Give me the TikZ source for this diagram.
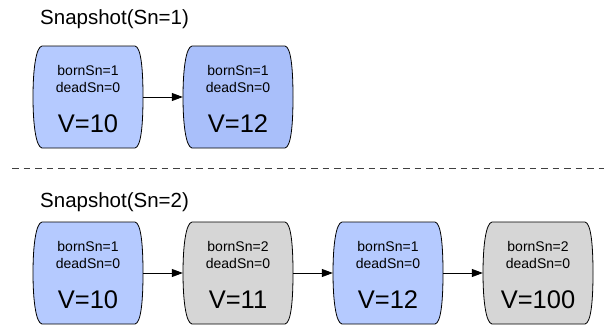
\documentclass[tikz,border=0pt]{standalone}
\usepackage{fontspec}
\setmainfont{Liberation Sans}
\usetikzlibrary{arrows.meta}
\definecolor{blueA}{HTML}{B5CAFF}
\definecolor{blueB}{HTML}{A9BFFA}
\definecolor{grayA}{HTML}{D6D6D6}
\tikzset{
  holder/.style={minimum width=110pt, minimum height=102pt, inner sep=0pt, draw=none},
  barrel/.style={draw=black, line width=0.8pt},
  smalltxt/.style={font=\fontsize{14}{17}\selectfont, align=center, inner sep=0pt},
  bigtxt/.style={font=\fontsize{25.5}{28}\selectfont, inner sep=0pt},
  titletxt/.style={font=\fontsize{20.5}{24}\selectfont, inner sep=0pt, anchor=base west},
  link/.style={draw=black, line width=0.8pt, -{Triangle[length=11pt,width=8pt]}},
  sep/.style={draw=black!75, line width=0.8pt, dash pattern=on 6.5pt off 5pt},
}
\newcommand\barrelbox[5]{%
  \node[holder] (#1) at (#2) {};
  \begin{scope}[shift={(#1.center)}]
    \path[barrel, fill=#3] (-46,-51) -- (47,-51)
      .. controls (53,-50) and (55,-28) .. (55,0)
      .. controls (55,28) and (53,50) .. (47,51)
      -- (-46,51)
      .. controls (-52,50) and (-55,28) .. (-55,0)
      .. controls (-55,-28) and (-52,-50) .. (-46,-51) -- cycle;
  \end{scope}
  \node[smalltxt] (#1-s) at ([yshift=18pt]#1.center) {#4};
  \node[bigtxt] (#1-v) at ([yshift=-27pt]#1.center) {#5};
}
\begin{document}
\begin{tikzpicture}[x=1pt, y=-1pt]
\useasboundingbox (0,0) rectangle (604,324);
\node[titletxt] (t1) at (40,24) {Snapshot(Sn=1)};
\barrelbox{a1}{88,97}{blueA}{bornSn=1\\deadSn=0}{V=10}
\barrelbox{a2}{238,97}{blueB}{bornSn=1\\deadSn=0}{V=12}
\draw[link] (a1.east) -- (a2.west);
\coordinate (l0) at (12,168);
\coordinate (l1) at (604,168);
\draw[sep] (l0) -- (l1);
\node[titletxt] (t2) at (40,207) {Snapshot(Sn=2)};
\barrelbox{b1}{88,273}{blueA}{bornSn=1\\deadSn=0}{V=10}
\barrelbox{b2}{238,273}{grayA}{bornSn=2\\deadSn=0}{V=11}
\barrelbox{b3}{388,273}{blueA}{bornSn=1\\deadSn=0}{V=12}
\barrelbox{b4}{538,273}{grayA}{bornSn=2\\deadSn=0}{V=100}
\draw[link] (b1.east) -- (b2.west);
\draw[link] (b2.east) -- (b3.west);
\draw[link] (b3.east) -- (b4.west);
\end{tikzpicture}
\end{document}
